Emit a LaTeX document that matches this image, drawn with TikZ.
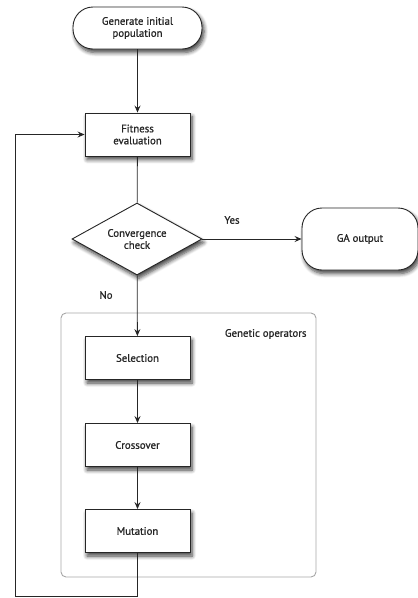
\documentclass[tikz,border=0pt]{standalone}
\usepackage{fontspec}
\setmainfont{PT Sans}[FakeBold=0.9]
\usetikzlibrary{shapes.geometric,arrows.meta,shadows.blur}
\begin{document}
\begin{tikzpicture}[x=1pt,y=-1pt,
  base/.style={draw=black!85,line width=0.9pt,fill=white,font=\fontsize{10.8}{12}\selectfont,align=center,text=black!85,
    blur shadow={shadow xshift=2pt,shadow yshift=-3.5pt,shadow blur steps=6,shadow blur radius=4pt,shadow opacity=75}},
  procbox/.style={base,rectangle,minimum width=105pt,minimum height=43pt,inner sep=1pt},
  termbox/.style={base,rectangle,rounded corners=20pt,inner sep=1pt},
  decbox/.style={base,diamond,aspect=1.8,minimum width=130pt,minimum height=72pt,inner sep=0pt},
  conn/.style={draw=black!85,line width=0.8pt,-{Stealth[length=7pt,width=6pt,inset=2.5pt]}},
  lbl/.style={font=\fontsize{10.8}{12}\selectfont,text=black!85}
]
\useasboundingbox (0,0) rectangle (418,598);
\node[draw=black!35,line width=0.9pt,rounded corners=5pt,minimum width=255pt,minimum height=264pt,inner sep=0pt] (frame) at (188.5,445) {};
\node[lbl,anchor=east] (glabel) at (310,334) {Genetic operators};
\node[termbox,minimum width=129pt,minimum height=42pt] (gen) at (137.5,28) {Generate initial\\population};
\node[procbox] (fit) at (137.5,134.5) {Fitness\\evaluation};
\node[decbox] (conv) at (137,239) {Convergence\\check};
\node[termbox,minimum width=116pt,minimum height=62pt] (out) at (360,239) {GA output};
\node[procbox] (sel) at (137.5,358) {Selection};
\node[procbox] (cross) at (137.5,445) {Crossover};
\node[procbox] (mut) at (137.5,531) {Mutation};
\node[lbl] (yes) at (232,220) {Yes};
\node[lbl] (no) at (106,295) {No};
\coordinate (c1) at (137.5,596);
\coordinate (c2) at (15.5,596);
\coordinate (c3) at (15.5,134.5);
\draw[conn] (gen) -- (fit);
\draw[draw=black!85,line width=0.8pt] (fit) -- (conv);
\draw[conn] (conv) -- (out);
\draw[conn] (conv) -- (sel);
\draw[conn] (sel) -- (cross);
\draw[conn] (cross) -- (mut);
\draw[conn] (mut) -- (c1) -- (c2) -- (c3) -- (fit);
\end{tikzpicture}
\end{document}
